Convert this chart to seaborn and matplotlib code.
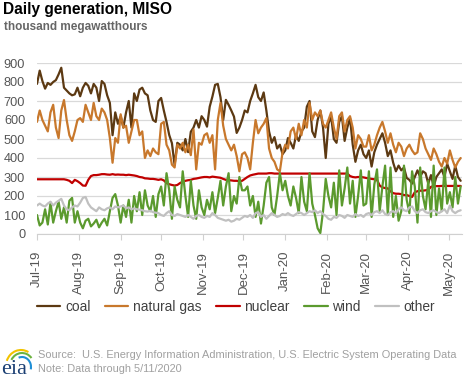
import pandas as pd
import numpy as np
import seaborn as sns
import matplotlib.pyplot as plt
import matplotlib.dates as mdates
from matplotlib.patches import Arc

# daily generation, thousand MWh, sampled every other day from Jul 1 2019
dates = pd.date_range("2019-07-01", periods=158, freq="2D")

coal = [
    790, 860, 805, 765, 795, 785, 800, 810, 840, 875, 770, 755, 740, 730, 735, 770,
    725, 770, 795, 780, 740, 790, 770, 700, 805, 790, 730, 690, 520, 640, 580,
    620, 560, 640, 700, 560, 740, 700, 760, 770, 740, 730, 650, 600, 590, 700,
    716, 650, 590, 521, 478, 363, 480, 470, 440, 500, 431, 538, 560, 600, 560, 620,
    600, 565, 670, 723, 785, 790, 720, 600, 706, 680, 650, 618, 532, 560, 600,
    650, 640, 700, 740, 785, 720, 700, 745, 650, 540, 480, 510, 450, 470, 420,
    440, 505, 480, 450, 520, 490, 540, 560, 670, 700, 540, 510, 600, 650, 560, 400,
    580, 620, 500, 480, 590, 620, 490, 560, 610, 470, 380, 440, 470, 420,
    400, 440, 355, 430, 470, 500, 530, 480, 410, 440, 375, 330, 360, 335, 350, 295,
    285, 265, 300, 335, 300, 330, 320, 265, 310, 250, 300, 320, 340, 300, 370,
    330, 290, 360, 300, 280,
]
natural_gas = [
    590, 650, 600, 570, 540, 640, 680, 560, 505, 650, 705, 600, 520, 490, 540, 600,
    610, 590, 680, 640, 600, 690, 620, 600, 660, 640, 600, 505, 375, 505, 480,
    630, 560, 570, 480, 540, 600, 600, 520, 540, 400, 440, 410, 450, 430, 420,
    580, 590, 470, 440, 365, 350, 470, 450, 480, 430, 470, 415, 550, 340, 480, 470,
    520, 530, 480, 520, 340, 600, 690, 570, 500, 470, 440, 470, 410, 330, 420,
    430, 400, 340, 480, 600, 530, 560, 580, 610, 450, 400, 380, 340, 330, 430,
    470, 450, 540, 560, 500, 580, 520, 600, 560, 690, 600, 640, 620, 650, 580, 560,
    600, 640, 560, 500, 620, 640, 540, 600, 620, 560, 450, 520, 500, 460,
    460, 520, 440, 470, 520, 560, 590, 540, 480, 530, 470, 430, 480, 460, 410, 450,
    470, 440, 420, 430, 530, 500, 450, 420, 390, 450, 420, 380, 355, 400, 370,
    440, 390, 350, 380, 400,
]
nuclear = [
    288, 288, 288, 288, 288, 288, 288, 288, 288, 288, 288, 285, 280, 268, 285, 278,
    268, 255, 254, 285, 305, 310, 310, 312, 315, 315, 313, 312, 315, 312, 313,
    312, 312, 310, 312, 310, 308, 305, 300, 298, 293, 292, 290, 290, 288, 285,
    288, 282, 268, 262, 258, 255, 258, 268, 275, 280, 283, 285, 290, 292, 295, 298,
    300, 300, 298, 302, 300, 298, 296, 290, 285, 283, 282, 280, 280, 278, 280,
    290, 300, 308, 312, 315, 318, 318, 318, 318, 320, 320, 318, 318, 318, 318,
    318, 318, 318, 318, 318, 318, 318, 318, 318, 318, 318, 318, 318, 318, 318, 318,
    318, 318, 318, 318, 318, 318, 318, 318, 305, 300, 298, 300, 300, 298,
    295, 292, 290, 288, 285, 255, 245, 242, 240, 225, 215, 212, 212, 210, 205, 205,
    200, 195, 220, 225, 228, 228, 230, 232, 248, 252, 252, 252, 253, 253, 253,
    253, 253, 253, 253, 253,
]
wind = [
    100, 45, 60, 130, 50, 165, 60, 120, 170, 80, 140, 60, 175, 190, 60, 120,
    60, 30, 70, 80, 40, 55, 75, 35, 60, 80, 45, 120, 190, 210, 150,
    60, 150, 90, 180, 60, 200, 120, 220, 100, 230, 150, 120, 200, 90, 210,
    250, 150, 320, 230, 80, 250, 180, 140, 330, 200, 90, 280, 150, 80, 230, 140,
    100, 180, 130, 220, 110, 190, 280, 150, 250, 320, 120, 200, 160, 300, 230,
    230, 250, 150, 200, 90, 170, 55, 150, 270, 300, 140, 100, 200, 320, 230,
    280, 200, 150, 250, 190, 110, 300, 170, 120, 320, 160, 100, 30, 5, 120, 290,
    200, 140, 270, 100, 335, 150, 240, 350, 160, 280, 90, 200, 335, 150,
    160, 330, 90, 260, 340, 120, 250, 360, 100, 350, 90, 200, 70, 120, 360, 180,
    110, 330, 250, 60, 350, 200, 130, 280, 90, 360, 100, 240, 120, 350, 160,
    220, 140, 300, 160, 250,
]
other = [
    150, 160, 150, 145, 160, 170, 150, 165, 175, 185, 150, 130, 125, 140, 150, 145,
    165, 190, 195, 160, 140, 130, 120, 140, 130, 125, 135, 140, 130, 145, 140,
    145, 150, 135, 140, 130, 135, 130, 128, 125, 120, 118, 122, 115, 112, 110,
    100, 95, 110, 120, 100, 95, 105, 100, 95, 90, 100, 90, 80, 95, 100, 90,
    85, 95, 90, 110, 100, 85, 80, 75, 70, 75, 65, 70, 80, 75, 85,
    95, 90, 100, 85, 110, 115, 90, 100, 80, 95, 110, 100, 90, 95, 105,
    100, 110, 100, 95, 105, 115, 110, 100, 110, 120, 115, 125, 110, 120, 105, 95,
    80, 75, 90, 85, 100, 95, 85, 100, 95, 90, 105, 95, 100, 90,
    105, 110, 100, 115, 120, 110, 125, 105, 100, 115, 120, 110, 130, 140, 125, 120,
    140, 145, 120, 110, 125, 130, 115, 110, 120, 125, 115, 110, 120, 130, 110,
    150, 120, 110, 120, 125,
]

fuels = ["coal", "natural gas", "nuclear", "wind", "other"]
colors = ["#5c3912", "#c8782c", "#c00000", "#5b9a2e", "#c0c0c0"]

df = pd.DataFrame({"date": dates, "coal": coal, "natural gas": natural_gas,
                   "nuclear": nuclear, "wind": wind, "other": other})
long = df.melt(id_vars="date", var_name="fuel", value_name="gen")

sns.set_style("white")
plt.rcParams["font.family"] = ["Liberation Sans", "DejaVu Sans"]

fig = plt.figure(figsize=(4.68, 3.78), dpi=100)
ax = fig.add_axes([37 / 468, 1 - 234 / 378, 425 / 468, 171 / 378])

sns.lineplot(data=long, x="date", y="gen", hue="fuel", hue_order=fuels,
             palette=colors, linewidth=1.6, ax=ax, legend=True)

ax.set_ylim(0, 900)
ax.set_yticks(np.arange(0, 901, 100))
ax.set_xlim(dates[0], pd.Timestamp("2020-05-11"))
ax.yaxis.grid(True, color="#d9d9d9", linewidth=0.9)
ax.set_axisbelow(True)
ax.set_xlabel("")
ax.set_ylabel("")
for s in ["left", "right", "top"]:
    ax.spines[s].set_visible(False)
ax.spines["bottom"].set_color("#d0d0d0")

ax.xaxis.set_major_locator(mdates.MonthLocator())
ax.xaxis.set_major_formatter(mdates.DateFormatter("%b-%y"))
ax.tick_params(axis="x", bottom=True, length=4, color="#d0d0d0",
               labelsize=9.5, labelcolor="#555555", rotation=90, pad=8)
ax.tick_params(axis="y", left=False, labelsize=9.2, labelcolor="#555555", pad=5)

handles, labels = ax.get_legend_handles_labels()
ax.legend(handles, labels, loc="center", bbox_to_anchor=(0.504, 1 - 307 / 378),
          bbox_transform=fig.transFigure, ncol=5, frameon=False,
          fontsize=9.9, handlelength=1.7, handletextpad=0.35, columnspacing=1.05,
          labelcolor="#404040")

fig.text(0.006, 0.995, "Daily generation, MISO", fontsize=11.2, fontweight="bold",
         va="top", ha="left", color="#000000")
fig.text(0.008, 0.944, "thousand megawatthours", fontsize=8.5, fontweight="bold",
         va="top", ha="left", color="#666666")
fig.text(38 / 468, 1 - 355 / 378,
         "Source:  U.S. Energy Information Administration, U.S. Electric System Operating Data",
         fontsize=7.9, va="center", ha="left", color="#a0a0a0")
fig.text(38 / 468, 1 - 369 / 378, "Note: Data through 5/11/2020",
         fontsize=7.9, va="center", ha="left", color="#a0a0a0")

# eia logo
lax = fig.add_axes([0, 0, 36 / 468, 34 / 378])
lax.set_xlim(0, 36)
lax.set_ylim(0, 34)
lax.axis("off")
lax.add_patch(Arc((21, 12), 30, 32, theta1=62, theta2=160, color="#f2c300", lw=1.5))
lax.add_patch(Arc((22, 12), 24, 26, theta1=40, theta2=150, color="#6cb33f", lw=1.5))
lax.add_patch(Arc((22, 11), 18, 20, theta1=-15, theta2=110, color="#1f8fd6", lw=1.5))
lax.text(1.5, 4, "eia", fontsize=16, family="Liberation Serif", color="#1b3f73",
         ha="left", va="baseline")

fig.savefig("out.png", dpi=100)
